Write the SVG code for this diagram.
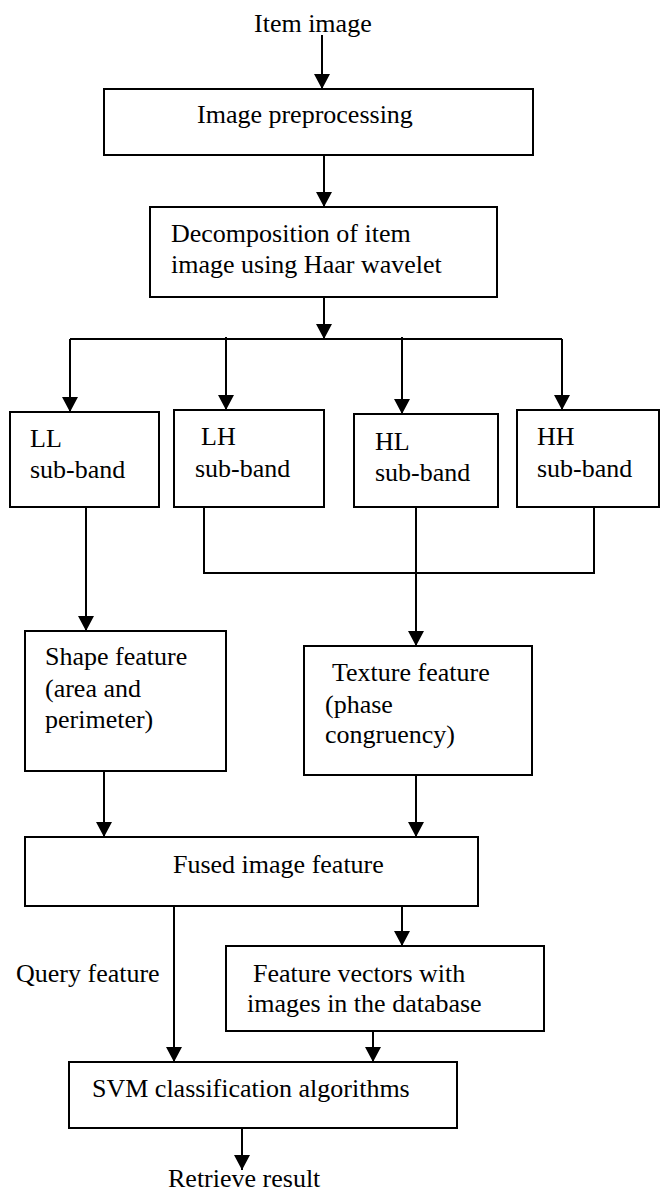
<svg xmlns="http://www.w3.org/2000/svg" width="661" height="1194" viewBox="0 0 661 1194">
<style>
.box{fill:#fff;stroke:#000;stroke-width:2}
.t{font-family:"Liberation Serif","Times New Roman",serif;font-size:26px;fill:#000}
.c{fill:none;stroke:#000;stroke-width:2}
.a{marker-end:url(#arr)}
</style>
<defs>
<marker id="arr" viewBox="0 0 15 16" refX="15" refY="8" markerWidth="15" markerHeight="16" markerUnits="userSpaceOnUse" orient="auto">
<path d="M0,0 L15,8 L0,16 z" fill="#000"/>
</marker>
</defs>
<rect width="661" height="1194" fill="#fff"/>
<g id="connectors">
<path class="c a" d="M322,35 V89"/>
<path class="c a" d="M324,155 V207"/>
<path class="c a" d="M324,297 V339"/>
<path class="c" d="M70,339 H562"/>
<path class="c a" d="M70,339 V412"/>
<path class="c a" d="M226,337 V410"/>
<path class="c a" d="M402,337 V414"/>
<path class="c a" d="M562,339 V410"/>
<path class="c a" d="M86,507 V631"/>
<path class="c" d="M204,507 V573 H594 V507"/>
<path class="c a" d="M416,507 V646"/>
<path class="c a" d="M104,771 V837"/>
<path class="c a" d="M416,775 V837"/>
<path class="c a" d="M174,906 V1062"/>
<path class="c a" d="M402,906 V946"/>
<path class="c a" d="M373,1031 V1062"/>
<path class="c a" d="M242,1128 V1170"/>
</g>
<g id="input"><text class="t" x="254" y="32">Item image</text></g>
<g id="preprocessing">
<rect class="box" x="104" y="89" width="429" height="66"/>
<text class="t" x="197" y="123">Image preprocessing</text>
</g>
<g id="decomposition">
<rect class="box" x="150" y="207" width="347" height="90"/>
<text class="t" x="171" y="242">Decomposition of item</text>
<text class="t" x="171" y="273">image using Haar wavelet</text>
</g>
<g id="ll">
<rect class="box" x="10" y="412" width="149" height="95"/>
<text class="t" x="30" y="447">LL</text>
<text class="t" x="30" y="478">sub-band</text>
</g>
<g id="lh">
<rect class="box" x="174" y="410" width="150" height="97"/>
<text class="t" x="201" y="445">LH</text>
<text class="t" x="195" y="477">sub-band</text>
</g>
<g id="hl">
<rect class="box" x="354" y="414" width="144" height="93"/>
<text class="t" x="375" y="450">HL</text>
<text class="t" x="375" y="481">sub-band</text>
</g>
<g id="hh">
<rect class="box" x="517" y="410" width="142" height="97"/>
<text class="t" x="537" y="445">HH</text>
<text class="t" x="537" y="477">sub-band</text>
</g>
<g id="shape">
<rect class="box" x="25" y="631" width="201" height="140"/>
<text class="t" x="45" y="665">Shape feature</text>
<text class="t" x="45" y="697">(area and</text>
<text class="t" x="45" y="728">perimeter)</text>
</g>
<g id="texture">
<rect class="box" x="304" y="646" width="228" height="129"/>
<text class="t" x="332" y="681">Texture feature</text>
<text class="t" x="325" y="713">(phase</text>
<text class="t" x="325" y="743">congruency)</text>
</g>
<g id="fused">
<rect class="box" x="25" y="837" width="453" height="69"/>
<text class="t" x="173" y="873">Fused image feature</text>
</g>
<g id="query"><text class="t" x="16" y="982">Query feature</text></g>
<g id="vectors">
<rect class="box" x="226" y="946" width="318" height="85"/>
<text class="t" x="253" y="982">Feature vectors with</text>
<text class="t" x="247" y="1012">images in the database</text>
</g>
<g id="svm">
<rect class="box" x="69" y="1062" width="388" height="66"/>
<text class="t" x="92" y="1097">SVM classification algorithms</text>
</g>
<g id="output"><text class="t" x="168" y="1187">Retrieve result</text></g>
</svg>
